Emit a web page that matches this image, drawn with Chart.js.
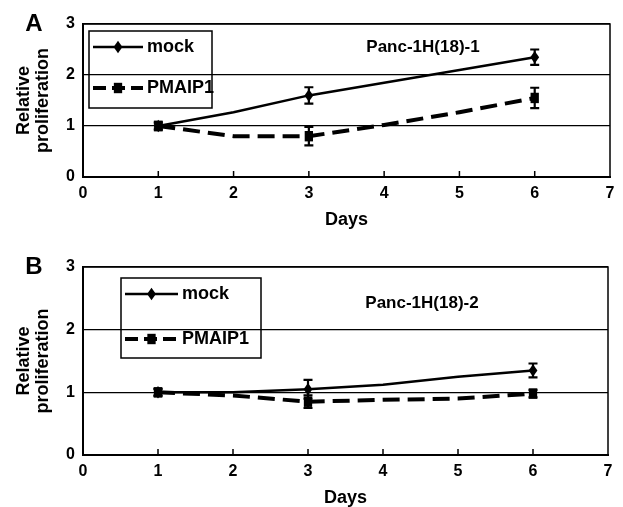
<!DOCTYPE html>
<html>
<head>
<meta charset="utf-8">
<script src="https://cdn.jsdelivr.net/npm/chart.js@4.4.1/dist/chart.umd.min.js"></script>
<style>
  body { margin: 0; background: #fff; }
  .panel { position: absolute; left: 0; }
</style>
</head>
<body>
<div class="panel" style="top:0"><canvas id="chartA" width="623" height="245"></canvas></div>
<div class="panel" style="top:245px"><canvas id="chartB" width="623" height="262"></canvas></div>
<script>
// Data
const days = [1, 2, 3, 4, 5, 6];
const seriesNames = ['mock', 'PMAIP1'];
const panelTitles = ['Panc-1H(18)-1', 'Panc-1H(18)-2'];
const panelLetters = ['A', 'B'];

const mockA = [1.0, 1.27, 1.6, 1.85, 2.1, 2.35];
const mockErrA = [0.05, null, 0.16, null, null, 0.15];
const pmaipA = [1.0, 0.8, 0.8, 1.02, 1.27, 1.55];
const pmaipErrA = [0.08, null, 0.18, null, null, 0.2];

const mockB = [1.0, 1.0, 1.05, 1.12, 1.25, 1.35];
const mockErrB = [0.05, null, 0.15, null, null, 0.11];
const pmaipB = [1.0, 0.95, 0.85, 0.88, 0.9, 0.98];
const pmaipErrB = [0.06, null, 0.1, null, null, 0.06];

const FONT = 'Liberation Sans, Arial, sans-serif';

// draw a marker by hand so legend and chart look alike
function drawMarker(ctx, style, x, y, r) {
    ctx.save();
    ctx.fillStyle = '#000';
    ctx.beginPath();
    if (style === 'rectRot') {
        ctx.moveTo(x, y - r * 1.2);
        ctx.lineTo(x + r * 0.85, y);
        ctx.lineTo(x, y + r * 1.2);
        ctx.lineTo(x - r * 0.85, y);
    } else {
        ctx.rect(x - r * 0.8, y - r, r * 1.6, r * 2);
    }
    ctx.closePath();
    ctx.fill();
    ctx.restore();
}

const panelPlugin = {
    id: 'panelExtras',
    afterDraw(chart, args, opts) {
        const ctx = chart.ctx;
        const area = chart.chartArea;
        const xs = chart.scales.x, ys = chart.scales.y;
        ctx.save();

        // box round plot area
        ctx.strokeStyle = '#000';
        ctx.lineWidth = 1.5;
        ctx.strokeRect(area.left, area.top, area.right - area.left, area.bottom - area.top);

        // inside tick marks on x axis
        for (let d = 1; d <= 6; d++) {
            const px = xs.getPixelForValue(d);
            ctx.beginPath();
            ctx.moveTo(px, area.bottom);
            ctx.lineTo(px, area.bottom - 6);
            ctx.stroke();
        }

        // error bars and markers
        chart.data.datasets.forEach((ds, di) => {
            const meta = chart.getDatasetMeta(di);
            ds.errors.forEach((e, i) => {
                if (e === null) return;
                const pt = meta.data[i];
                const v = ds.data[i].y;
                const y1 = ys.getPixelForValue(v + e);
                const y2 = ys.getPixelForValue(v - e);
                ctx.lineWidth = 2.2;
                ctx.beginPath();
                ctx.moveTo(pt.x, y1); ctx.lineTo(pt.x, y2);
                ctx.moveTo(pt.x - 4.5, y1); ctx.lineTo(pt.x + 4.5, y1);
                ctx.moveTo(pt.x - 4.5, y2); ctx.lineTo(pt.x + 4.5, y2);
                ctx.stroke();
                drawMarker(ctx, ds.markerStyle, pt.x, pt.y, 5.2);
            });
        });

        // panel letter
        ctx.fillStyle = '#000';
        ctx.font = 'bold 24px ' + FONT;
        ctx.textAlign = 'center';
        ctx.textBaseline = 'middle';
        ctx.fillText(opts.letter, 34, opts.letterY);

        // cell line name
        ctx.font = 'bold 17px ' + FONT;
        ctx.fillText(opts.title, opts.titleX, opts.titleY);

        // legend box
        const lg = opts.legend;
        ctx.lineWidth = 1.5;
        ctx.strokeRect(lg.x, lg.y, lg.w, lg.h);
        chart.data.datasets.forEach((ds, di) => {
            const ry = lg.rows[di];
            ctx.save();
            ctx.lineWidth = ds.borderWidth;
            ctx.setLineDash(ds.legendDash);
            ctx.beginPath();
            ctx.moveTo(lg.x + 4, ry);
            ctx.lineTo(lg.x + lg.sample, ry);
            ctx.stroke();
            ctx.restore();
            drawMarker(ctx, ds.markerStyle, lg.x + 4 + (lg.sample - 4) / 2, ry, 5.2);
            ctx.font = 'bold 18px ' + FONT;
            ctx.textAlign = 'left';
            ctx.fillText(ds.label, lg.x + lg.sample + 4, ry);
        });
        ctx.restore();
    }
};

function makePanel(id, idx, mock, mockErr, pmaip, pmaipErr, cfg) {
    const toXY = arr => days.map((d, i) => ({ x: d, y: arr[i] }));
    new Chart(document.getElementById(id), {
        type: 'line',
        data: {
            datasets: [
                {
                    label: seriesNames[0],
                    data: toXY(mock),
                    errors: mockErr,
                    markerStyle: 'rectRot',
                    legendDash: [],
                    borderColor: '#000',
                    borderWidth: 2.5,
                    pointRadius: 0,
                    tension: 0
                },
                {
                    label: seriesNames[1],
                    data: toXY(pmaip),
                    errors: pmaipErr,
                    markerStyle: 'rect',
                    legendDash: [13, 6],
                    borderColor: '#000',
                    borderWidth: 4,
                    borderDash: [17, 8],
                    pointRadius: 0,
                    tension: 0
                }
            ]
        },
        options: {
            responsive: false,
            animation: false,
            devicePixelRatio: 1,
            layout: { padding: { left: 0, top: cfg.top, right: cfg.right, bottom: 0 } },
            plugins: {
                legend: { display: false },
                tooltip: { enabled: false },
                panelExtras: {
                    letter: panelLetters[idx],
                    letterY: cfg.letterY,
                    title: panelTitles[idx],
                    titleX: cfg.titleX,
                    titleY: cfg.titleY,
                    legend: cfg.legend
                }
            },
            scales: {
                x: {
                    type: 'linear',
                    min: 0, max: 7,
                    ticks: { stepSize: 1, color: '#000', padding: 7, font: { family: FONT, size: 16, weight: 'bold' } },
                    grid: { drawOnChartArea: false, drawTicks: false },
                    border: { color: '#000', width: 2 },
                    title: {
                        display: true, text: 'Days', color: '#000',
                        font: { family: FONT, size: 18, weight: 'bold', lineHeight: 1 },
                        padding: { top: 0, bottom: cfg.daysPad }
                    },
                    afterFit(scale) { scale.height = cfg.xHeight; }
                },
                y: {
                    min: 0, max: 3,
                    ticks: { stepSize: 1, color: '#000', padding: 8, font: { family: FONT, size: 16, weight: 'bold' } },
                    grid: { color: '#000', lineWidth: 1.2, drawTicks: false },
                    border: { color: '#000', width: 2 },
                    title: {
                        display: true, text: ['Relative', 'proliferation'], color: '#000',
                        font: { family: FONT, size: 18, weight: 'bold', lineHeight: 1.05 },
                        padding: { top: 15, bottom: 0 }
                    },
                    afterFit(scale) { scale.width = 83; }
                }
            }
        },
        plugins: [panelPlugin]
    });
}

makePanel('chartA', 0, mockA, mockErrA, pmaipA, pmaipErrA, {
    top: 24, right: 13, xHeight: 68, daysPad: 16,
    letterY: 24, titleX: 423, titleY: 47,
    legend: { x: 89, y: 31, w: 123, h: 77, sample: 54, rows: [47, 88] }
});
makePanel('chartB', 1, mockB, mockErrB, pmaipB, pmaipErrB, {
    top: 22, right: 15, xHeight: 52, daysPad: 0,
    letterY: 22, titleX: 422, titleY: 58,
    legend: { x: 121, y: 33, w: 140, h: 80, sample: 57, rows: [49, 94] }
});
</script>
</body>
</html>
